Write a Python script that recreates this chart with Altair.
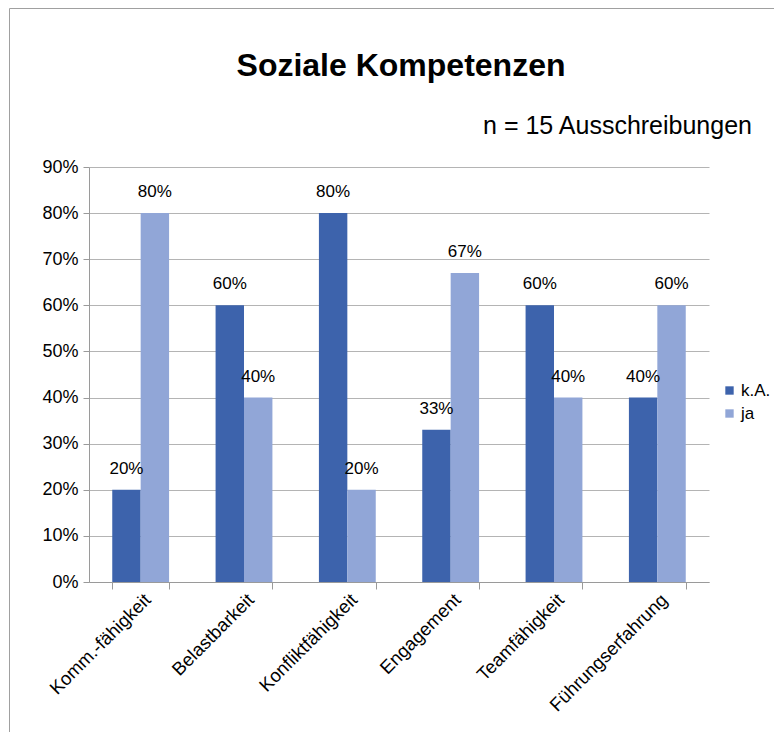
import altair as alt
import pandas as pd

categories = ["Komm.-fähigkeit", "Belastbarkeit", "Konfliktfähigkeit", "Engagement", "Teamfähigkeit", "Führungserfahrung"]
series = ["k.A.", "ja"]
ka_values = [20, 60, 80, 33, 60, 40]
ja_values = [80, 40, 20, 67, 40, 60]
colors = ["#3D63AC", "#91A6D7"]
title_text = "Soziale Kompetenzen"
subtitle_text = "n = 15 Ausschreibungen"

rows = []
for c, a, b in zip(categories, ka_values, ja_values):
    rows.append({"Kategorie": c, "Serie": "k.A.", "Wert": a / 100})
    rows.append({"Kategorie": c, "Serie": "ja", "Wert": b / 100})
df = pd.DataFrame(rows)

FONT = "Liberation Sans"

x_enc = alt.X("Kategorie:N", sort=categories, title=None,
              scale=alt.Scale(paddingInner=0.45, paddingOuter=0.225),
              axis=alt.Axis(labelAngle=-45, labelAlign="right", labelBaseline="top",
                            labelFontSize=18.5, labelColor="#000", labelFont=FONT,
                            tickBand="extent", tickSize=7, tickColor="#9a9a9a",
                            domainColor="#9a9a9a", labelPadding=1))
xoff = alt.XOffset("Serie:N", sort=series)

bars = alt.Chart(df).mark_bar().encode(
    x=x_enc,
    xOffset=xoff,
    y=alt.Y("Wert:Q", title=None,
            scale=alt.Scale(domain=[0, 0.9]),
            axis=alt.Axis(format=".0%", values=[i / 10 for i in range(10)],
                          labelFontSize=18, labelColor="#000", labelFont=FONT,
                          tickSize=6, tickColor="#9a9a9a", domainColor="#9a9a9a",
                          gridColor="#b4b4b4", labelPadding=5)),
    color=alt.Color("Serie:N", sort=series,
                    scale=alt.Scale(domain=series, range=colors),
                    legend=alt.Legend(title=None, orient="none", legendX=632, legendY=215,
                                      symbolType="square", symbolSize=70,
                                      symbolStrokeWidth=0,
                                      labelFontSize=17, labelFont=FONT, labelColor="#000",
                                      labelOffset=3, rowPadding=5)),
)

labels = alt.Chart(df).mark_text(baseline="bottom", dy=-12, fontSize=17, font=FONT, color="#000").encode(
    x=alt.X("Kategorie:N", sort=categories),
    xOffset=xoff,
    y="Wert:Q",
    text=alt.Text("Wert:Q", format=".0%"),
)

title = alt.Chart(pd.DataFrame({"t": [title_text]})).mark_text(
    align="center", baseline="alphabetic", fontSize=32, font=FONT, fontWeight="bold", color="#000"
).encode(x=alt.value(312), y=alt.value(-91), text="t:N")

sub = alt.Chart(pd.DataFrame({"t": [subtitle_text]})).mark_text(
    align="right", baseline="alphabetic", fontSize=25, font=FONT, color="#000"
).encode(x=alt.value(663), y=alt.value(-33), text="t:N")

frame_left = alt.Chart(pd.DataFrame({"a": [0]})).mark_rule(color="#a0a0a0", strokeWidth=1).encode(
    x=alt.value(-79.5), y=alt.value(-158.5), y2=alt.value(580))
frame_top = alt.Chart(pd.DataFrame({"a": [0]})).mark_rule(color="#a0a0a0", strokeWidth=1).encode(
    x=alt.value(-79.5), x2=alt.value(700), y=alt.value(-158.5))

chart = alt.layer(frame_left, frame_top, bars, labels, title, sub).properties(
    width=620, height=415,
    autosize=alt.AutoSizeParams(type="none"),
    padding={"left": 81, "top": 159, "right": 65, "bottom": 150},
).configure_view(stroke=None).configure_axis(grid=True).configure_axisX(grid=False)

chart.save("out.html", embed_options={"renderer": "svg", "actions": False})
